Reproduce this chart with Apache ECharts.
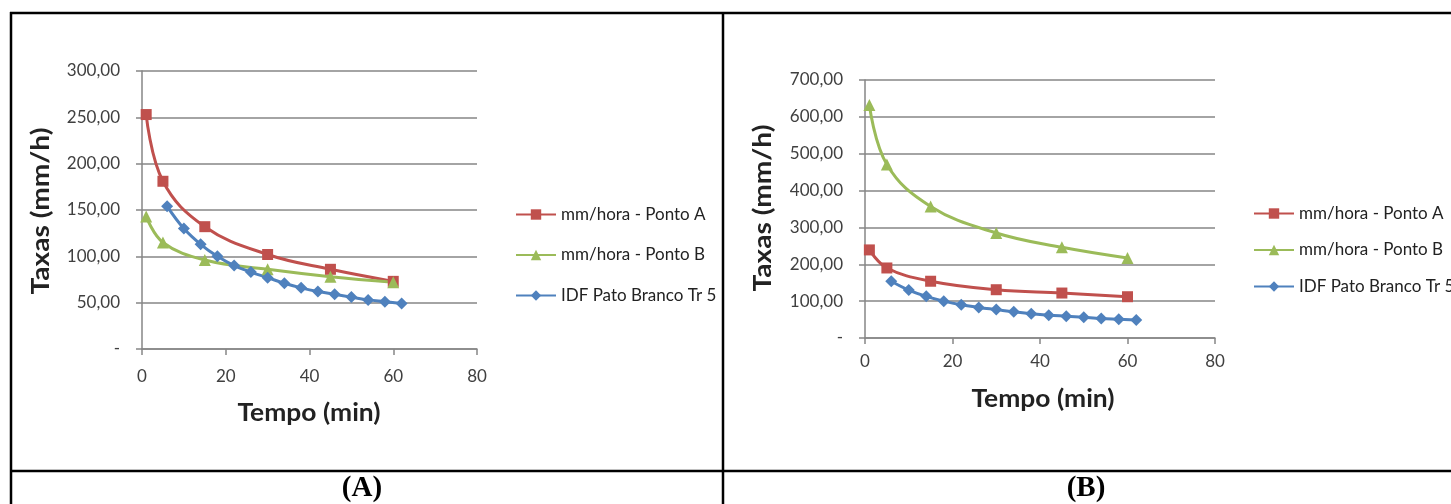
<!DOCTYPE html>
<html>
<head>
<meta charset="utf-8">
<script src="https://cdn.jsdelivr.net/npm/echarts@6/dist/echarts.min.js"></script>
<style>
html,body{margin:0;padding:0;background:#fff;}
#c{width:1451px;height:504px;}
</style>
</head>
<body>
<div id="c"></div>
<script>
// ---- data ----
var tempoPontos = [1, 5, 15, 30, 45, 60];
var tempoIDF = [6, 10, 14, 18, 22, 26, 30, 34, 38, 42, 46, 50, 54, 58, 62];
var idfPatoBranco = [154, 130, 113, 100, 90, 83, 77, 71, 66, 62, 59, 56, 53, 51, 49];
var pontoA_chartA = [253, 181, 132, 102, 86, 73];
var pontoB_chartA = [143, 115, 96, 86, 78, 72];
var pontoA_chartB = [239, 190, 154, 131, 122, 112];
var pontoB_chartB = [632, 471, 357, 285, 246, 217];
var seriesNames = ['mm/hora - Ponto A', 'mm/hora - Ponto B', 'IDF Pato Branco Tr 5'];
var xTicks = { min: 0, max: 80, interval: 20 };
var yTicksA = { min: 0, max: 300, interval: 50 };
var yTicksB = { min: 0, max: 700, interval: 100 };

function pairs(xs, ys) { return xs.map(function (x, i) { return [x, ys[i]]; }); }

var colors = { A: '#C0504D', B: '#9BBB59', I: '#4F81BD' };
var gridColor = '#868686';
var labelColor = '#404040';
var font = 'Lato';

function yFmt(v) { return v === 0 ? '-' : v.toFixed(2).replace('.', ','); }

function xAxis(gi, margin) {
  return {
    type: 'value', gridIndex: gi, min: xTicks.min, max: xTicks.max, interval: xTicks.interval,
    axisLine: { show: true, onZero: false, lineStyle: { color: gridColor, width: 1.5 } },
    axisTick: { show: true, length: 6, lineStyle: { color: gridColor, width: 1.5 } },
    axisLabel: { color: labelColor, fontFamily: font, fontSize: 17, margin: margin },
    splitLine: { show: false }
  };
}
function yAxis(gi, t) {
  return {
    type: 'value', gridIndex: gi, min: t.min, max: t.max, interval: t.interval,
    axisLine: { show: true, lineStyle: { color: gridColor, width: 1.5 } },
    axisTick: { show: true, length: 6, lineStyle: { color: gridColor, width: 1.5 } },
    axisLabel: { color: labelColor, fontFamily: font, fontSize: 17, margin: 22, formatter: yFmt },
    splitLine: { show: true, lineStyle: { color: gridColor, width: 1.5 } }
  };
}
function line(name, gi, data, color, symbol, size) {
  return {
    name: name, type: 'line', xAxisIndex: gi, yAxisIndex: gi, data: data,
    smooth: 0.4, symbol: symbol, symbolSize: size, showSymbol: true,
    lineStyle: { color: color, width: 3 },
    itemStyle: { color: color },
    emphasis: { disabled: true }
  };
}
function legend(left, top, gap) {
  return {
    orient: 'vertical', left: left, top: top, itemGap: gap, itemWidth: 40, itemHeight: 13,
    padding: 0, selectedMode: false,
    textStyle: { fontFamily: font, fontSize: 17, color: '#222', lineHeight: 14 },
    data: seriesNames
  };
}
function title(x, y, text, vertical, sc) {
  return {
    type: 'text', x: x, y: y, rotation: vertical ? Math.PI / 2 : 0, scaleX: sc, scaleY: 1,
    style: { text: text, font: 'bold 24px Lato', fill: '#222', textAlign: 'center', textVerticalAlign: 'middle' }
  };
}

var chart = echarts.init(document.getElementById('c'), null, { renderer: 'canvas' });
var b = 2.5;
chart.setOption({
  animation: false,
  backgroundColor: '#fff',
  grid: [
    { left: 142, top: 71, width: 335, height: 278 },
    { left: 865, top: 80, width: 350, height: 258 }
  ],
  xAxis: [xAxis(0, 19), xAxis(1, 15)],
  yAxis: [yAxis(0, yTicksA), yAxis(1, yTicksB)],
  legend: [legend(515, 206, 23.5), legend(1253, 205, 19.5)],
  series: [
    line(seriesNames[0], 0, pairs(tempoPontos, pontoA_chartA), colors.A, 'rect', 11),
    line(seriesNames[1], 0, pairs(tempoPontos, pontoB_chartA), colors.B, 'triangle', 12),
    line(seriesNames[2], 0, pairs(tempoIDF, idfPatoBranco), colors.I, 'diamond', 12),
    line(seriesNames[0], 1, pairs(tempoPontos, pontoA_chartB), colors.A, 'rect', 11),
    line(seriesNames[1], 1, pairs(tempoPontos, pontoB_chartB), colors.B, 'triangle', 12),
    line(seriesNames[2], 1, pairs(tempoIDF, idfPatoBranco), colors.I, 'diamond', 12)
  ],
  graphic: [
    { type: 'line', shape: { x1: 10, y1: 13, x2: 1451, y2: 13 }, style: { stroke: '#000', lineWidth: b } },
    { type: 'line', shape: { x1: 11, y1: 12, x2: 11, y2: 504 }, style: { stroke: '#000', lineWidth: b } },
    { type: 'line', shape: { x1: 723, y1: 12, x2: 723, y2: 504 }, style: { stroke: '#000', lineWidth: b } },
    { type: 'line', shape: { x1: 10, y1: 471, x2: 1451, y2: 471 }, style: { stroke: '#000', lineWidth: b } },
    title(41, 211, 'Taxas (mm/h)', true, 1.17),
    title(763, 208, 'Taxas (mm/h)', true, 1.17),
    title(309, 413, 'Tempo (min)', false, 1.1),
    title(1043, 399, 'Tempo (min)', false, 1.1),
    { type: 'text', x: 362, y: 489,
      style: { text: '(A)', font: 'bold 29px "Liberation Serif"', fill: '#000', textAlign: 'center', textVerticalAlign: 'middle' } },
    { type: 'text', x: 1086, y: 489,
      style: { text: '(B)', font: 'bold 29px "Liberation Serif"', fill: '#000', textAlign: 'center', textVerticalAlign: 'middle' } }
  ]
});
</script>
</body>
</html>
